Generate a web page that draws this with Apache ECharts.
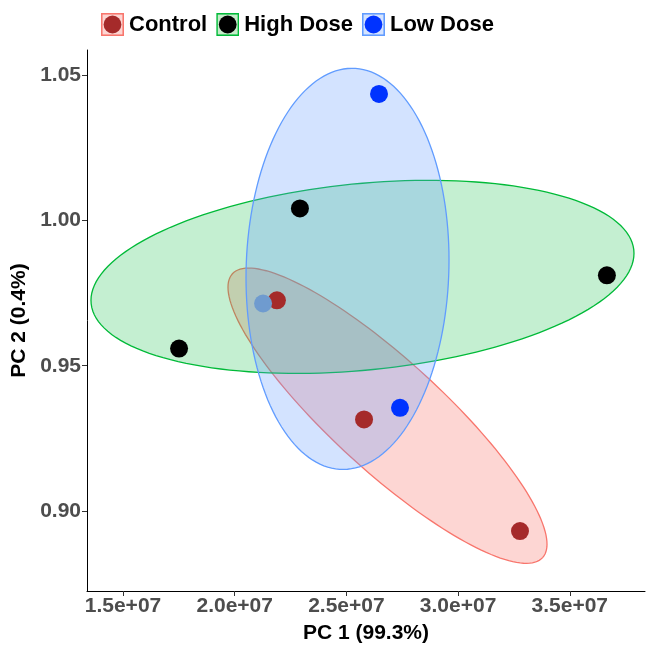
<!DOCTYPE html>
<html>
<head>
<meta charset="utf-8">
<script src="https://cdn.jsdelivr.net/npm/echarts@6/dist/echarts.min.js"></script>
<style>html,body{margin:0;padding:0;background:#fff}#c{width:651px;height:646px}</style>
</head>
<body>
<div id="c"></div>
<script>
// ---- data ----
const groups = ['Control', 'High Dose', 'Low Dose'];
const controlPts = [[2.189e7, 0.9725], [2.579e7, 0.9315], [3.277e7, 0.8931]];
const highDosePts = [[2.292e7, 1.0041], [1.751e7, 0.9559], [3.666e7, 0.9811]];
const lowDosePts = [[2.646e7, 1.0435], [2.740e7, 0.9355], [2.127e7, 0.9714]];
// ellipse: [centre x, centre y, x half-extent, y half-extent, correlation]
const controlEllipse = [2.684e7, 0.9328, 7.140e6, 0.05079, -0.870];
const highDoseEllipse = [2.572e7, 0.98056, 1.2153e7, 0.03321, 0.2435];
const lowDoseEllipse = [2.505e7, 0.98331, 4.5434e6, 0.06899, 0.0443];
const xTicks = [1.5e7, 2.0e7, 2.5e7, 3.0e7, 3.5e7];
const xTickLabels = ['1.5e+07', '2.0e+07', '2.5e+07', '3.0e+07', '3.5e+07'];
const yTicks = [0.90, 0.95, 1.00, 1.05];
const yTickLabels = ['0.90', '0.95', '1.00', '1.05'];
const xRange = [1.3389e7, 3.8366e7];
const yRange = [0.8725, 1.0586];

// ---- styles ----
const pointColors = ['#a52a2a', '#000000', '#0033ff'];
const lineColors = ['#f8766d', '#00ba38', '#619cff'];
const fillColors = ['rgba(248,118,109,0.30)', 'rgba(0,186,56,0.23)', 'rgba(97,156,255,0.28)'];
const boxFills = ['#fdd6d3', '#c5ebc9', '#d4e3ff'];
const FONT = '"Liberation Sans", Arial, sans-serif';

function legendIcon(i) {
  const svg = '<svg xmlns="http://www.w3.org/2000/svg" width="44" height="44" viewBox="0 0 44 44">' +
    '<rect x="1.5" y="1.5" width="41" height="41" fill="' + boxFills[i] + '" stroke="' + lineColors[i] + '" stroke-width="3"/>' +
    '<circle cx="22" cy="22" r="17" fill="' + pointColors[i] + '"/></svg>';
  return 'image://data:image/svg+xml;charset=utf-8,' + encodeURIComponent(svg);
}

const ptsByGroup = [controlPts, highDosePts, lowDosePts];
const ellByGroup = [controlEllipse, highDoseEllipse, lowDoseEllipse];

const series = [];
groups.forEach((g, i) => {
  series.push({
    name: g,
    type: 'custom',
    coordinateSystem: 'cartesian2d',
    z: 1,
    clip: true,
    silent: true,
    encode: { x: 0, y: 1 },
    data: [ellByGroup[i]],
    renderItem: function (params, api) {
      const cx = api.value(0), cy = api.value(1), rx = api.value(2), ry = api.value(3), rho = api.value(4);
      const s = Math.sqrt(1 - rho * rho);
      const pts = [];
      const n = 160;
      for (let k = 0; k < n; k++) {
        const t = 2 * Math.PI * k / n;
        pts.push(api.coord([cx + rx * Math.cos(t), cy + ry * (rho * Math.cos(t) + s * Math.sin(t))]));
      }
      return {
        type: 'polygon',
        shape: { points: pts },
        style: { fill: fillColors[i], stroke: lineColors[i], lineWidth: 1.3 }
      };
    }
  });
});
groups.forEach((g, i) => {
  series.push({
    name: g,
    type: 'scatter',
    z: 3,
    symbol: 'circle',
    symbolSize: 18,
    itemStyle: { color: pointColors[i], opacity: 1 },
    data: ptsByGroup[i].map((p, k) => {
      if (i === 2 && k === 2) return { value: p, itemStyle: { color: '#6f9bcf' } };
      return p;
    })
  });
});

const chart = echarts.init(document.getElementById('c'), null, { renderer: 'canvas' });
chart.setOption({
  animation: false,
  backgroundColor: '#ffffff',
  grid: { left: 87, right: 6, top: 50, bottom: 55, containLabel: false, outerBoundsMode: 'none' },
  legend: {
    top: 8,
    left: 96,
    itemWidth: 23,
    itemHeight: 23,
    itemGap: 9,
    textStyle: { fontFamily: FONT, fontSize: 22, fontWeight: 'bold', color: '#000' },
    data: groups.map((g, i) => ({ name: g, icon: legendIcon(i) }))
  },
  xAxis: {
    type: 'value',
    min: xRange[0],
    max: xRange[1],
    name: 'PC 1 (99.3%)',
    nameLocation: 'middle',
    nameGap: 32,
    nameTextStyle: { fontFamily: FONT, fontSize: 21, fontWeight: 'bold', color: '#000' },
    axisLine: { show: true, onZero: false, lineStyle: { color: '#000', width: 1 } },
    axisTick: { show: true, customValues: xTicks, length: 5, lineStyle: { color: '#333' } },
    axisLabel: {
      customValues: xTicks,
      margin: 5,
      fontFamily: FONT, fontSize: 21, fontWeight: 'bold', color: '#4d4d4d',
      formatter: v => { const k = xTicks.findIndex(t => Math.abs(t - v) < 1); return k >= 0 ? xTickLabels[k] : ''; }
    },
    splitLine: { show: false }
  },
  yAxis: {
    type: 'value',
    min: yRange[0],
    max: yRange[1],
    name: 'PC 2 (0.4%)',
    nameLocation: 'middle',
    nameRotate: 90,
    nameGap: 51,
    nameTextStyle: { fontFamily: FONT, fontSize: 21, fontWeight: 'bold', color: '#000' },
    axisLine: { show: true, onZero: false, lineStyle: { color: '#000', width: 1 } },
    axisTick: { show: true, customValues: yTicks, length: 5, lineStyle: { color: '#333' } },
    axisLabel: {
      customValues: yTicks,
      margin: 6,
      fontFamily: FONT, fontSize: 21, fontWeight: 'bold', color: '#4d4d4d',
      formatter: v => { const k = yTicks.findIndex(t => Math.abs(t - v) < 1e-6); return k >= 0 ? yTickLabels[k] : ''; }
    },
    splitLine: { show: false }
  },
  series: series
});
</script>
</body>
</html>
